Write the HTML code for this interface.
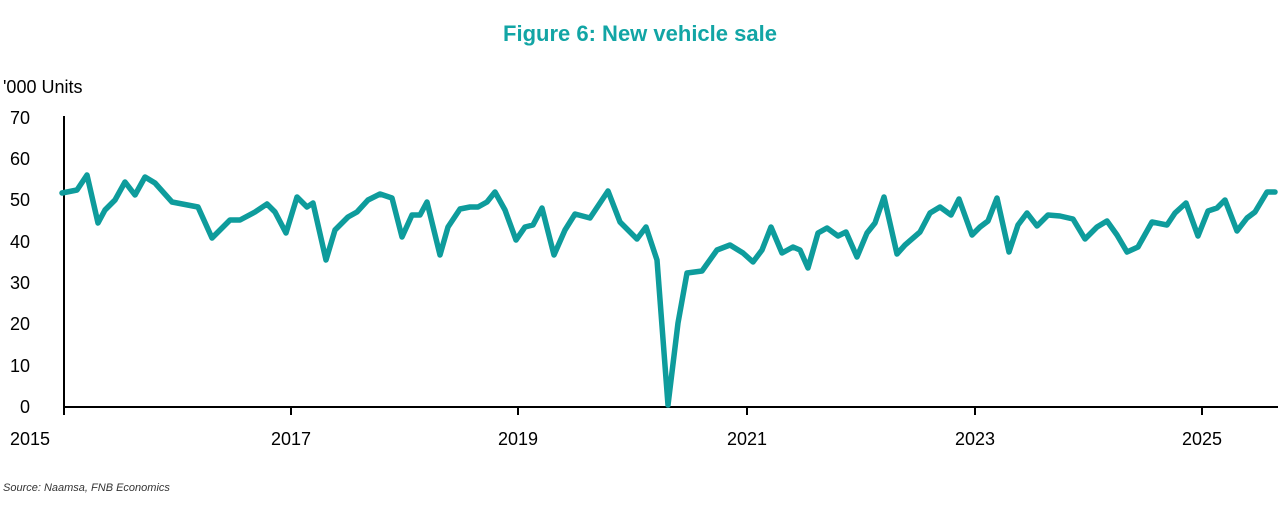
<!DOCTYPE html>
<html><head><meta charset="utf-8"><style>
body{margin:0;background:#fff;}
svg{display:block;font-family:"Liberation Sans",sans-serif;}
</style></head><body>
<svg width="1280" height="520" viewBox="0 0 1280 520" xmlns="http://www.w3.org/2000/svg">
<text x="640" y="41" text-anchor="middle" font-size="22" font-weight="bold" fill="#12a5a5">Figure 6: New vehicle sale</text>
<text x="3" y="93" font-size="18" fill="#000">'000 Units</text>
<g font-size="18" fill="#000" text-anchor="end">
<text x="30" y="124">70</text><text x="30" y="165">60</text><text x="30" y="206">50</text>
<text x="30" y="248">40</text><text x="30" y="289">30</text><text x="30" y="330">20</text>
<text x="30" y="372">10</text><text x="30" y="413">0</text>
</g>
<line x1="64" y1="116" x2="64" y2="408" stroke="#000" stroke-width="2"/>
<line x1="63" y1="407" x2="1278" y2="407" stroke="#000" stroke-width="2"/>
<g stroke="#000" stroke-width="2">
<line x1="64" y1="407" x2="64" y2="415"/><line x1="291" y1="407" x2="291" y2="415"/>
<line x1="518" y1="407" x2="518" y2="415"/><line x1="747" y1="407" x2="747" y2="415"/>
<line x1="975" y1="407" x2="975" y2="415"/><line x1="1202" y1="407" x2="1202" y2="415"/>
</g>
<g font-size="18" fill="#000" text-anchor="middle">
<text x="30" y="445">2015</text><text x="291" y="445">2017</text><text x="518" y="445">2019</text>
<text x="747" y="445">2021</text><text x="975" y="445">2023</text><text x="1202" y="445">2025</text>
</g>
<text x="3" y="491" font-size="11" font-style="italic" fill="#333">Source: Naamsa, FNB Economics</text>
<polyline fill="none" stroke="#0e9c9c" stroke-width="5.5" stroke-linejoin="round" stroke-linecap="round" points="
62,193 77,190 87,175 98,223 105,210 115,200 125,182 135,195 145,177 155,183 172,202 198,207 212,238 230,220 240,220 255,212 267,204 275,212 286,233 297,197 307,207 313,203 326,260 335,230 348,217 357,212 368,200 380,194 392,198 402,237 412,215 420,215 427,202 440,255 448,227 460,209 470,207 478,207 487,202 495,192 505,210 516,240 525,227 533,225 542,208 554,255 565,230 575,214 590,218 608,191 620,222 637,239 646,227 657,260 668,405 678,323 687,273 702,271 717,250 730,245 743,253 753,262 762,250 771,227 782,253 793,247 800,250 808,268 818,233 827,228 838,236 846,232 857,257 867,233 875,223 884,197 897,254 905,245 920,232 930,213 940,207 951,215 959,199 972,235 980,227 988,221 997,198 1009,252 1018,225 1027,213 1037,226 1048,215 1060,216 1073,219 1085,239 1097,227 1107,221 1117,235 1127,252 1138,247 1152,222 1167,225 1175,213 1186,203 1198,236 1208,211 1217,208 1225,200 1237,231 1247,218 1255,212 1267,192 1275,192"/>
</svg>
</body></html>
